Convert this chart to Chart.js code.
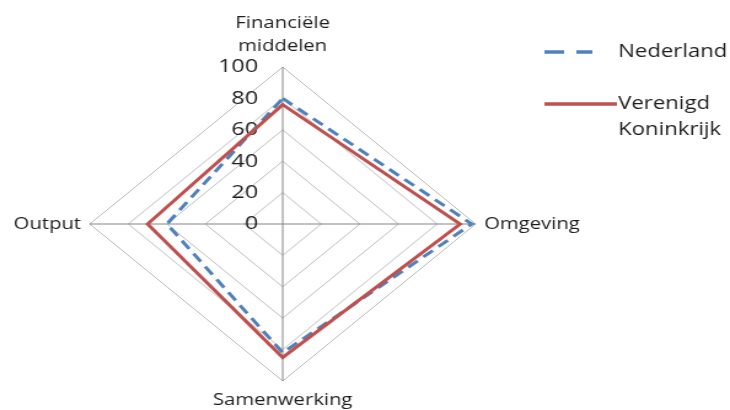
<!DOCTYPE html>
<html>
<head>
<meta charset="utf-8">
<script src="https://cdn.jsdelivr.net/npm/chart.js@4"></script>
<style>
  html, body { margin: 0; padding: 0; background: #fff; }
</style>
</head>
<body>
<!-- the chart is drawn narrow and widened to 730px by its style -->
<canvas id="chart" width="594" height="410" style="display:block;width:730px;height:410px"></canvas>
<script>
'use strict';

var AXES = [['Financiële', 'middelen'], 'Omgeving', 'Samenwerking', 'Output'];
var NEDERLAND = [80, 98, 82, 60];
var VERENIGD_KONINKRIJK = [76, 92, 85, 70];
var TICK_VALUES = [0, 20, 40, 60, 80, 100];

var FONT = '"Open Sans", sans-serif';
var TEXT_COLOR = '#1e1e1e';

// tick labels, axis names and the legend are drawn here
var radarText = {
	id: 'radarText',
	beforeDatasetsDraw: function(chart) {
		var scale = chart.scales.r;
		var ctx = chart.ctx;
		ctx.save();
		ctx.font = '19px ' + FONT;
		ctx.fillStyle = TEXT_COLOR;
		ctx.textAlign = 'right';
		ctx.textBaseline = 'middle';
		scale.ticks.forEach(function(tick) {
			var d = scale.getDistanceFromCenterForValue(tick.value);
			ctx.fillText(tick.label, scale.xCenter - 20, scale.yCenter - d);
		});
		ctx.restore();
	},
	afterDraw: function(chart) {
		var scale = chart.scales.r;
		var ctx = chart.ctx;
		var lh = 23;
		ctx.save();
		ctx.font = '16.5px ' + FONT;
		ctx.fillStyle = TEXT_COLOR;
		ctx.textBaseline = 'middle';
		AXES.forEach(function(name, i) {
			var lines = [].concat(name);
			var angle = scale.getIndexAngle(i);
			var sin = Math.sin(angle), cos = Math.cos(angle);
			var pos = scale.getPointPosition(i, scale.drawingArea + 7);
			var blockH = lines.length * lh;
			var y0;
			if (Math.abs(sin) < 0.01) {
				ctx.textAlign = 'center';
				y0 = cos > 0 ? pos.y - 2 - blockH + lh / 2 : pos.y + 1 + lh / 2;
			} else {
				ctx.textAlign = sin > 0 ? 'left' : 'right';
				y0 = pos.y - blockH / 2 + lh / 2;
			}
			lines.forEach(function(line, k) {
				ctx.fillText(line, pos.x, y0 + k * lh);
			});
		});

		// legend
		var rows = [{y: 52, x1: 482}, {y: 104, x1: 502}];
		ctx.font = '18px ' + FONT;
		ctx.textAlign = 'left';
		chart.data.datasets.forEach(function(ds, i) {
			var row = rows[i];
			ctx.save();
			ctx.strokeStyle = ds.borderColor;
			ctx.lineWidth = 3.5;
			ctx.setLineDash(ds.borderDash ? [16, 10] : []);
			ctx.beginPath();
			ctx.moveTo(443, row.y);
			ctx.lineTo(row.x1, row.y);
			ctx.stroke();
			ctx.restore();
			ds.label.split(' ').forEach(function(word, k) {
				ctx.fillText(word, 503, row.y + k * 26);
			});
		});
		ctx.restore();
	}
};

var ctx = document.getElementById('chart').getContext('2d');
var chart = new Chart(ctx, {
	type: 'radar',
	data: {
		labels: AXES,
		datasets: [{
			label: 'Nederland',
			data: NEDERLAND,
			borderColor: '#4f81bd',
			borderWidth: 3,
			borderDash: [10, 6],
			fill: false,
			order: 1
		}, {
			label: 'Verenigd Koninkrijk',
			data: VERENIGD_KONINKRIJK,
			borderColor: '#c0504d',
			borderWidth: 3,
			fill: false,
			order: 0
		}]
	},
	options: {
		responsive: false,
		animation: false,
		layout: {
			padding: {left: 73, right: 207, top: 67, bottom: 29}
		},
		elements: {
			line: {tension: 0},
			point: {radius: 0, hoverRadius: 0}
		},
		plugins: {
			legend: {display: false},
			tooltip: {enabled: false}
		},
		scales: {
			r: {
				min: TICK_VALUES[0],
				max: TICK_VALUES[TICK_VALUES.length - 1],
				ticks: {
					stepSize: TICK_VALUES[1] - TICK_VALUES[0],
					display: false
				},
				pointLabels: {display: false},
				grid: {color: '#bcbcbc', lineWidth: 1},
				angleLines: {color: '#858585', lineWidth: 1}
			}
		}
	},
	plugins: [radarText]
});
</script>
</body>
</html>
